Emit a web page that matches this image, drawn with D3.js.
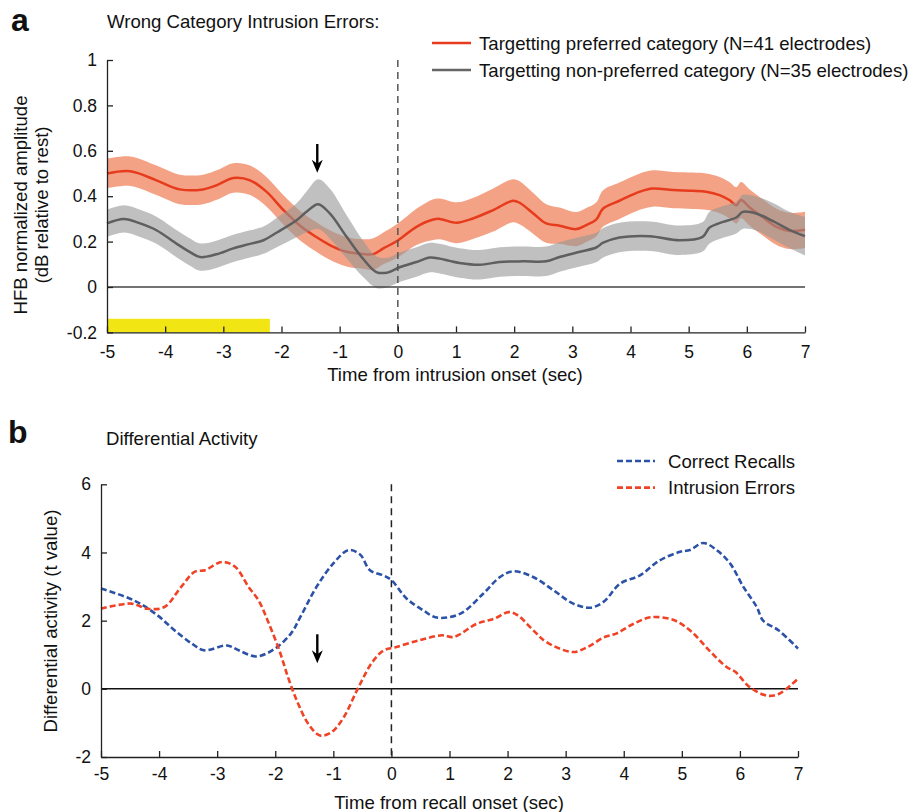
<!DOCTYPE html>
<html><head><meta charset="utf-8">
<script src="https://cdn.jsdelivr.net/npm/d3@7"></script>
<style>
html,body{margin:0;padding:0;background:#fff;}
svg text{font-family:"Liberation Sans",Arial,Helvetica,sans-serif;fill:#111;}
</style></head>
<body><svg id="chart" width="912" height="812"></svg>
<script>
// ---------- Panel a data ----------
const xTicks = [-5,-4,-3,-2,-1,0,1,2,3,4,5,6,7];
const yTicksA = [-0.2,0,0.2,0.4,0.6,0.8,1];
const yTicksB = [-2,0,2,4,6];

const timePref = [-5,-4.6,-4.15,-3.75,-3.35,-3.1,-2.83,-2.54,-2.26,-1.97,-1.68,-1.4,-1.17,-0.88,-0.6,-0.42,-0.25,0,0.32,0.61,0.72,1.01,1.29,1.64,1.98,2.1,2.33,2.55,2.78,3.07,3.24,3.41,3.53,3.81,4.16,4.38,4.73,5.07,5.3,5.53,5.7,5.82,5.9,6.05,6.28,6.51,6.73,7.0];
const meanPref = [0.50,0.51,0.47,0.43,0.43,0.45,0.48,0.47,0.42,0.34,0.27,0.22,0.185,0.155,0.145,0.145,0.17,0.205,0.265,0.297,0.30,0.283,0.302,0.339,0.38,0.37,0.324,0.28,0.27,0.255,0.273,0.297,0.346,0.38,0.42,0.434,0.427,0.424,0.42,0.405,0.383,0.36,0.383,0.35,0.306,0.265,0.247,0.252];
const sePref = [0.065,0.065,0.065,0.065,0.065,0.065,0.065,0.065,0.065,0.065,0.065,0.065,0.065,0.065,0.065,0.07,0.07,0.075,0.08,0.09,0.09,0.09,0.09,0.095,0.095,0.095,0.09,0.085,0.08,0.075,0.075,0.075,0.08,0.08,0.08,0.08,0.08,0.08,0.08,0.08,0.08,0.08,0.08,0.08,0.08,0.08,0.08,0.08];

const timeNon = [-5,-4.71,-4.43,-4.15,-3.8,-3.58,-3.4,-3.12,-2.83,-2.54,-2.31,-2.08,-1.74,-1.57,-1.37,-1.17,-0.88,-0.6,-0.37,-0.19,0.04,0.32,0.55,0.72,0.89,1.06,1.41,1.75,2.15,2.55,2.78,3.13,3.41,3.53,3.81,4.33,4.84,5.24,5.36,5.59,5.82,5.93,6.16,6.45,6.73,7.0];
const meanNon = [0.28,0.30,0.28,0.25,0.19,0.155,0.132,0.144,0.17,0.19,0.206,0.24,0.294,0.331,0.365,0.324,0.221,0.125,0.066,0.063,0.088,0.11,0.13,0.125,0.115,0.106,0.098,0.11,0.113,0.113,0.132,0.155,0.174,0.195,0.218,0.224,0.206,0.221,0.262,0.287,0.306,0.331,0.324,0.29,0.252,0.224];
const seNon = [0.06,0.06,0.06,0.06,0.06,0.06,0.06,0.06,0.06,0.06,0.06,0.065,0.075,0.09,0.11,0.11,0.095,0.08,0.07,0.065,0.065,0.065,0.065,0.065,0.065,0.065,0.065,0.065,0.065,0.065,0.065,0.065,0.065,0.065,0.065,0.065,0.065,0.065,0.07,0.07,0.07,0.075,0.075,0.08,0.08,0.085];

const yellowSpan = [-5,-2.2];
const yellowLevels = [-0.2,-0.14];
const arrowA = [-1.385, 0.63, 0.503];

// ---------- Panel b data ----------
const timeCorrect = [-5,-4.44,-4.03,-3.73,-3.43,-3.23,-2.83,-2.63,-2.33,-2.03,-1.73,-1.57,-1.29,-1.0,-0.74,-0.54,-0.37,-0.14,0,0.26,0.55,0.78,1.18,1.58,1.87,2.10,2.44,2.79,3.13,3.42,3.65,3.94,4.28,4.62,4.97,5.14,5.37,5.6,5.83,6.06,6.29,6.4,6.67,7.0];
const tCorrect = [2.94,2.6,2.16,1.71,1.32,1.13,1.27,1.13,0.95,1.15,1.62,2.1,2.99,3.68,4.07,3.94,3.48,3.33,3.19,2.65,2.3,2.09,2.2,2.79,3.28,3.45,3.28,2.89,2.5,2.38,2.55,3.09,3.33,3.77,4.02,4.07,4.28,4.07,3.68,2.99,2.4,2.0,1.71,1.18];
const timeIntrusion = [-5,-4.48,-4.2,-3.91,-3.62,-3.39,-3.21,-2.92,-2.69,-2.46,-2.29,-2.13,-1.93,-1.78,-1.63,-1.43,-1.23,-1.03,-0.83,-0.58,-0.33,-0.13,0.07,0.47,0.87,1.07,1.47,1.77,2.02,2.17,2.47,2.67,3.12,3.37,3.67,3.87,4.17,4.47,4.87,5.17,5.47,5.77,5.92,6.17,6.47,6.67,6.87,7.0];
const tIntrusion = [2.35,2.5,2.35,2.4,2.99,3.43,3.48,3.72,3.58,2.99,2.6,2.0,1.13,0.34,-0.34,-1.03,-1.37,-1.27,-0.86,0,0.78,1.13,1.22,1.42,1.57,1.52,1.91,2.06,2.25,2.16,1.67,1.37,1.08,1.22,1.52,1.62,1.91,2.1,2.01,1.67,1.13,0.64,0.5,0.05,-0.2,-0.15,0.1,0.3];
const arrowB = [-1.276, 1.6, 0.75];

const legendA = ["Targetting preferred category (N=41 electrodes)","Targetting non-preferred category (N=35 electrodes)"];
const legendB = ["Correct Recalls","Intrusion Errors"];

// ---------- Drawing ----------
const svg = d3.select("#chart");
const FS = 18.6, TFS = 17.5;

function drawArrow(g, x, y1, y2){
  g.append("line").attr("x1",x).attr("x2",x).attr("y1",y1).attr("y2",y2-8)
    .attr("stroke","#000").attr("stroke-width",2.4);
  g.append("path").attr("d",`M${x-5.5},${y2-13}L${x},${y2}L${x+5.5},${y2-13}L${x},${y2-9}Z`)
    .attr("fill","#000").attr("stroke","none");
}

// Panel a
{
  const x = d3.scaleLinear().domain([-5,7]).range([107,805]);
  const y = d3.scaleLinear().domain([-0.2,1]).range([332.4,60]);
  const g = svg.append("g");
  const curve = d3.curveCatmullRom.alpha(0.5);

  g.append("rect").attr("x",x(yellowSpan[0])).attr("width",x(yellowSpan[1])-x(yellowSpan[0]))
    .attr("y",y(yellowLevels[1])).attr("height",y(yellowLevels[0])-y(yellowLevels[1]))
    .attr("fill","#f2e514");

  const pref = timePref.map((t,i)=>({t,m:meanPref[i],s:sePref[i]}));
  const non = timeNon.map((t,i)=>({t,m:meanNon[i],s:seNon[i]}));
  const area = d3.area().x(d=>x(d.t)).y0(d=>y(d.m-d.s)).y1(d=>y(d.m+d.s)).curve(curve);
  const line = d3.line().x(d=>x(d.t)).y(d=>y(d.m)).curve(curve);

  g.append("path").datum(pref).attr("d",area).attr("fill","#f4a285");
  g.append("path").datum(pref).attr("d",line).attr("fill","none").attr("stroke","#e63b1c").attr("stroke-width",2.5);
  g.append("path").datum(non).attr("d",area).attr("fill","#969696").attr("fill-opacity",0.6);
  g.append("path").datum(non).attr("d",line).attr("fill","none").attr("stroke","#5f5f5f").attr("stroke-width",2.5);

  g.append("line").attr("x1",x(-5)).attr("x2",x(7)).attr("y1",y(0)).attr("y2",y(0))
    .attr("stroke","#444").attr("stroke-width",1.5);
  g.append("line").attr("x1",x(0)).attr("x2",x(0)).attr("y1",y(1)).attr("y2",y(-0.2))
    .attr("stroke","#555").attr("stroke-width",1.5).attr("stroke-dasharray","7,5");

  const ax = g.append("g").attr("transform",`translate(0,${y(-0.2)})`)
    .call(d3.axisBottom(x).tickValues(xTicks).tickSizeInner(-6).tickSizeOuter(0).tickPadding(13).tickFormat(d=>String(d)));
  const ay = g.append("g").attr("transform",`translate(${x(-5)},0)`)
    .call(d3.axisLeft(y).tickValues(yTicksA).tickSizeInner(-6).tickSizeOuter(0).tickPadding(10).tickFormat(d=>String(+d.toFixed(1))));
  [ax,ay].forEach(a=>{a.selectAll("path,line").attr("stroke","#222").attr("stroke-width",1.3);
    a.selectAll("text").attr("font-size",TFS).attr("font-family","Liberation Sans, Arial, sans-serif").attr("fill","#111");});

  drawArrow(g, x(arrowA[0]), y(arrowA[1]), y(arrowA[2]));

  g.append("text").attr("x",107).attr("y",28).attr("font-size",FS).text("Wrong Category Intrusion Errors:");
  g.append("text").attr("x",11).attr("y",31).attr("font-size",32).attr("font-weight","bold").text("a");
  g.append("text").attr("x",455).attr("y",381).attr("font-size",FS).attr("text-anchor","middle").text("Time from intrusion onset (sec)");
  g.append("text").attr("transform","translate(27,205) rotate(-90)").attr("font-size",FS).attr("text-anchor","middle").text("HFB normalized amplitude");
  g.append("text").attr("transform","translate(48,205) rotate(-90)").attr("font-size",FS).attr("text-anchor","middle").text("(dB relative to rest)");

  const lc = ["#e63b1c","#666"];
  legendA.forEach((s,i)=>{
    const yy = 43 + i*27;
    g.append("line").attr("x1",432).attr("x2",471).attr("y1",yy).attr("y2",yy).attr("stroke",lc[i]).attr("stroke-width",2.5);
    g.append("text").attr("x",479).attr("y",yy+7).attr("font-size",FS).text(s);
  });
}

// Panel b
{
  const x = d3.scaleLinear().domain([-5,7]).range([101,798]);
  const y = d3.scaleLinear().domain([-2,6]).range([757,484.3]);
  const g = svg.append("g");
  const curve = d3.curveCatmullRom.alpha(0.5);

  g.append("line").attr("x1",x(-5)).attr("x2",x(7)).attr("y1",y(0)).attr("y2",y(0))
    .attr("stroke","#111").attr("stroke-width",1.5);
  g.append("line").attr("x1",x(0)).attr("x2",x(0)).attr("y1",y(6)).attr("y2",y(-2))
    .attr("stroke","#222").attr("stroke-width",1.5).attr("stroke-dasharray","7,5");

  const line = d3.line().x(d=>x(d[0])).y(d=>y(d[1])).curve(curve);
  const correct = timeCorrect.map((t,i)=>[t,tCorrect[i]]);
  const intr = timeIntrusion.map((t,i)=>[t,tIntrusion[i]]);
  g.append("path").datum(correct).attr("d",line).attr("fill","none").attr("stroke","#2b52a6").attr("stroke-width",2.6).attr("stroke-dasharray","6,3");
  g.append("path").datum(intr).attr("d",line).attr("fill","none").attr("stroke","#f04326").attr("stroke-width",2.6).attr("stroke-dasharray","6,3");

  const ax = g.append("g").attr("transform",`translate(0,${y(-2)})`)
    .call(d3.axisBottom(x).tickValues(xTicks).tickSizeInner(-6).tickSizeOuter(0).tickPadding(11).tickFormat(d=>String(d)));
  const ay = g.append("g").attr("transform",`translate(${x(-5)},0)`)
    .call(d3.axisLeft(y).tickValues(yTicksB).tickSizeInner(-6).tickSizeOuter(0).tickPadding(10).tickFormat(d=>String(d)));
  [ax,ay].forEach(a=>{a.selectAll("path,line").attr("stroke","#222").attr("stroke-width",1.3);
    a.selectAll("text").attr("font-size",TFS).attr("font-family","Liberation Sans, Arial, sans-serif").attr("fill","#111");});

  drawArrow(g, x(arrowB[0]), y(arrowB[1]), y(arrowB[2]));

  g.append("text").attr("x",106).attr("y",445).attr("font-size",FS).text("Differential Activity");
  g.append("text").attr("x",8).attr("y",443).attr("font-size",32).attr("font-weight","bold").text("b");
  g.append("text").attr("x",449).attr("y",809).attr("font-size",FS).attr("text-anchor","middle").text("Time from recall onset (sec)");
  g.append("text").attr("transform","translate(57,621) rotate(-90)").attr("font-size",FS).attr("text-anchor","middle").text("Differential activity (t value)");

  const lc = ["#2b52a6","#f04326"];
  legendB.forEach((s,i)=>{
    const yy = 461 + i*26.6;
    g.append("line").attr("x1",617).attr("x2",655).attr("y1",yy).attr("y2",yy).attr("stroke",lc[i]).attr("stroke-width",2.6).attr("stroke-dasharray","6,3");
    g.append("text").attr("x",668).attr("y",yy+6.5).attr("font-size",FS).text(s);
  });
}
</script></body></html>
